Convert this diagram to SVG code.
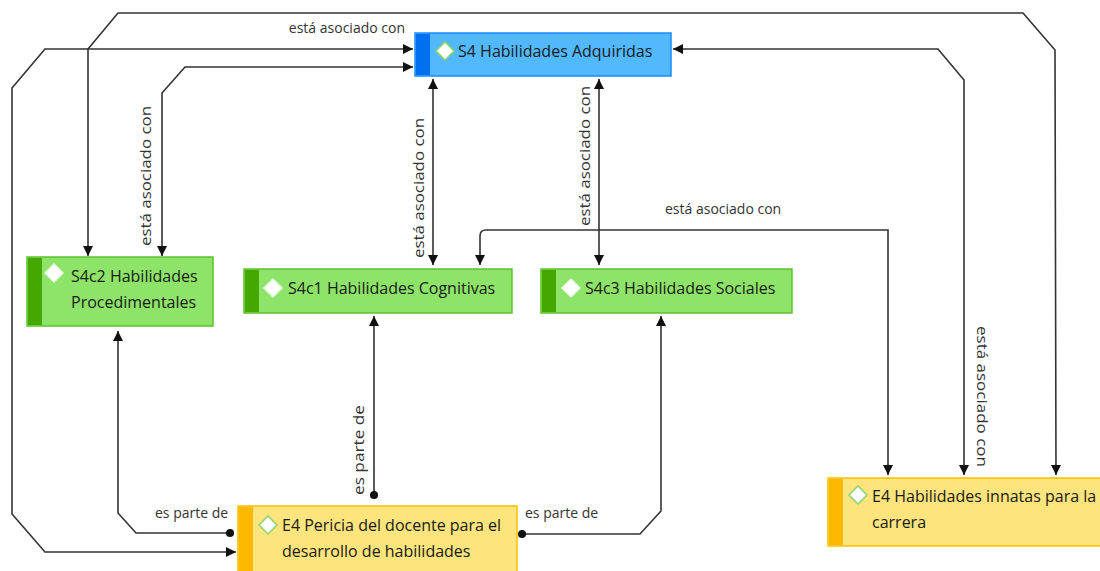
<svg xmlns="http://www.w3.org/2000/svg" width="1100" height="571" viewBox="0 0 1100 571">
<defs>
<marker id="arr" viewBox="0 0 10 10" refX="10" refY="5" markerWidth="10" markerHeight="10" markerUnits="userSpaceOnUse" orient="auto-start-reverse"><path d="M0,0 L10,5 L0,10 z" fill="#111"/></marker>
<marker id="dot" viewBox="0 0 10 10" refX="5" refY="5" markerWidth="9" markerHeight="9" markerUnits="userSpaceOnUse"><circle cx="5" cy="5" r="4.5" fill="#111"/></marker>
<style>
.c{fill:none;stroke:#333;stroke-width:1.6}
.a2{marker-start:url(#arr);marker-end:url(#arr)}
.lbl{font-family:"Open Sans","Liberation Sans",sans-serif;font-size:14px;fill:#333}
.nt{font-family:"Open Sans","Liberation Sans",sans-serif;font-size:16px;fill:#1a1a1a}
.dia{fill:#fff;stroke:#8ed46a;stroke-width:1.5}
.blue{fill:#52b9ff;stroke:#1a8cff;stroke-width:1.5}
.green{fill:#8de468;stroke:#5cc12c;stroke-width:1.5}
.yellow{fill:#fde47c;stroke:#ffc000;stroke-width:1.5}
</style>
</defs>
<g id="connectors">
<path class="c a2" d="M236,552 L45,552 L12,514 L12,88 L45,49 L413,49"/>
<path class="c a2" d="M88,256 L88,49 L118,13 L1023,13 L1055,50 L1056,475"/>
<path class="c a2" d="M413,67 L185,67 L162,93 L162,256"/>
<path class="c a2" d="M433,79 L433,265"/>
<path class="c a2" d="M599,79 L599,265"/>
<path class="c a2" d="M673,49 L938,49 L964,80 L964,475"/>
<path class="c a2" d="M480,265 L480,236 Q480,230 486,230 L888,230 L888,475"/>
<path class="c" marker-start="url(#arr)" marker-end="url(#dot)" d="M118,331 L118,513 L136,533 L230,533"/>
<path class="c" marker-start="url(#arr)" marker-end="url(#dot)" d="M374,316 L374,495"/>
<path class="c" marker-start="url(#dot)" marker-end="url(#arr)" d="M522,534 L640,534 L661,511 L661,316"/>
<text class="lbl" x="405" y="33" text-anchor="end">está asociado con</text>
<text class="lbl" transform="translate(151,246) rotate(-90)" textLength="140" lengthAdjust="spacingAndGlyphs">está asociado con</text>
<text class="lbl" transform="translate(424,258) rotate(-90)" textLength="140" lengthAdjust="spacingAndGlyphs">está asociado con</text>
<text class="lbl" transform="translate(590,226) rotate(-90)" textLength="140" lengthAdjust="spacingAndGlyphs">está asociado con</text>
<text class="lbl" x="665" y="214">está asociado con</text>
<text class="lbl" transform="translate(977,326) rotate(90)" textLength="141" lengthAdjust="spacingAndGlyphs">está asociado con</text>
<text class="lbl" x="155" y="518">es parte de</text>
<text class="lbl" transform="translate(364,495) rotate(-90)" textLength="90" lengthAdjust="spacingAndGlyphs">es parte de</text>
<text class="lbl" x="525" y="518">es parte de</text>
</g>
<g id="S4">
<rect class="blue" x="415" y="33" width="256" height="43"/>
<rect x="416" y="34" width="14" height="41" fill="#0070f0"/>
<path class="dia" d="M445,42 L454,51 L445,60 L436,51 z"/>
<text class="nt" x="458" y="57">S4 Habilidades Adquiridas</text>
</g>
<g id="S4c2">
<rect class="green" x="27" y="257" width="186" height="69"/>
<rect x="28" y="258" width="14" height="67" fill="#44a800"/>
<path class="dia" d="M54,264 L63,273 L54,282 L45,273 z" style="stroke:#e8f8e0"/>
<text class="nt" x="71" y="282">S4c2 Habilidades</text>
<text class="nt" x="71" y="308">Procedimentales</text>
</g>
<g id="S4c1">
<rect class="green" x="244" y="269" width="268" height="44"/>
<rect x="245" y="270" width="14" height="42" fill="#44a800"/>
<path class="dia" d="M273,279 L282,288 L273,297 L264,288 z" style="stroke:#e8f8e0"/>
<text class="nt" x="288" y="294">S4c1 Habilidades Cognitivas</text>
</g>
<g id="S4c3">
<rect class="green" x="541" y="269" width="251" height="44"/>
<rect x="542" y="270" width="14" height="42" fill="#44a800"/>
<path class="dia" d="M571,279 L580,288 L571,297 L562,288 z" style="stroke:#e8f8e0"/>
<text class="nt" x="585" y="294">S4c3 Habilidades Sociales</text>
</g>
<g id="E4pericia">
<rect class="yellow" x="238" y="506" width="279" height="70"/>
<rect x="239" y="507" width="14" height="68" fill="#ffb800"/>
<path class="dia" d="M268,516 L277,525 L268,534 L259,525 z"/>
<text class="nt" x="282" y="531">E4 Pericia del docente para el</text>
<text class="nt" x="282" y="557">desarrollo de habilidades</text>
</g>
<g id="E4innatas">
<rect class="yellow" x="828" y="478" width="280" height="68"/>
<rect x="829" y="479" width="14" height="66" fill="#ffb800"/>
<path class="dia" d="M858,486 L867,495 L858,504 L849,495 z"/>
<text class="nt" x="872" y="502">E4 Habilidades innatas para la</text>
<text class="nt" x="872" y="528">carrera</text>
</g>
</svg>
